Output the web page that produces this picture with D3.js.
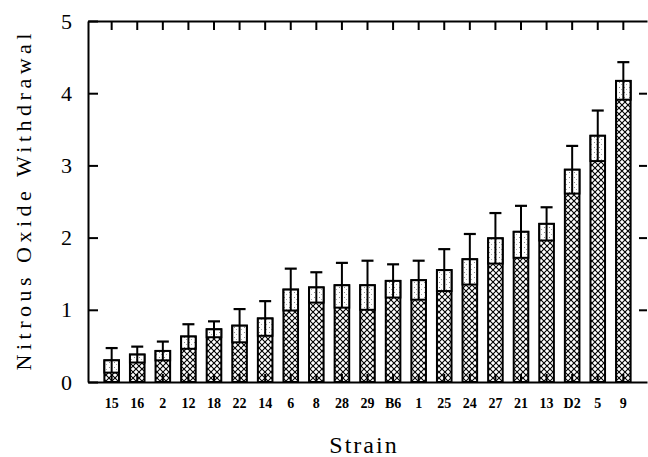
<!DOCTYPE html>
<html>
<head>
<meta charset="utf-8">
<script src="https://cdn.jsdelivr.net/npm/d3@7"></script>
<style>
  body { margin: 0; background: #fff; }
  text { font-family: "Liberation Serif", "Times New Roman", serif; fill: #000; }
</style>
</head>
<body>
<div id="chart"></div>
<script>
// strains in plotted order
var strains = ["15", "16", "2", "12", "18", "22", "14", "6", "8", "28", "29",
               "B6", "1", "25", "24", "27", "21", "13", "D2", "5", "9"];
// mean withdrawal score
var means = [0.30, 0.38, 0.43, 0.63, 0.73, 0.78, 0.88, 1.28, 1.31, 1.34, 1.34,
             1.40, 1.41, 1.55, 1.70, 1.99, 2.08, 2.19, 2.94, 3.41, 4.17];
// standard error
var sems = [0.17, 0.11, 0.13, 0.17, 0.11, 0.23, 0.24, 0.29, 0.21, 0.31, 0.34,
            0.23, 0.27, 0.29, 0.35, 0.35, 0.36, 0.23, 0.33, 0.35, 0.26];
var yTicks = [0, 1, 2, 3, 4, 5];

var data = strains.map(function(s, i) {
    return {strain: s, mean: means[i], sem: sems[i]};
});

var margin = {top: 21, right: 1, bottom: 75, left: 88},
    width = 648 - margin.left - margin.right,
    height = 457 - margin.top - margin.bottom;

var svg = d3.select("#chart").append("svg")
    .attr("width", 648)
    .attr("height", 457);

var defs = svg.append("defs");

// cross hatch for the bars
var hatch = defs.append("pattern")
    .attr("id", "hatch")
    .attr("patternUnits", "userSpaceOnUse")
    .attr("width", 6)
    .attr("height", 6);
hatch.append("rect").attr("width", 6).attr("height", 6).attr("fill", "#fff");
hatch.append("path")
    .attr("d", "M0,0L6,6M6,0L0,6")
    .attr("stroke", "#000")
    .attr("stroke-width", 1.1);

// light stipple for the sem box
var dots = defs.append("pattern")
    .attr("id", "dots")
    .attr("patternUnits", "userSpaceOnUse")
    .attr("width", 5)
    .attr("height", 5);
dots.append("rect").attr("width", 5).attr("height", 5).attr("fill", "#fff");
dots.append("rect").attr("x", 1).attr("y", 1).attr("width", 1).attr("height", 1).attr("fill", "#888");
dots.append("rect").attr("x", 3).attr("y", 3).attr("width", 1).attr("height", 1).attr("fill", "#aaa");

var g = svg.append("g")
    .attr("transform", "translate(" + margin.left + "," + margin.top + ")");

var x = d3.scaleBand()
    .domain(strains)
    .range([0, width])
    .paddingInner(0.43)
    .paddingOuter(0.64);

var y = d3.scaleLinear()
    .domain([0, 5])
    .range([height, 0]);

// bars
var bars = g.selectAll(".bar")
    .data(data)
    .enter().append("g")
    .attr("class", "bar");

bars.append("rect")
    .attr("x", function(d) { return x(d.strain); })
    .attr("y", function(d) { return y(d.mean); })
    .attr("width", x.bandwidth())
    .attr("height", function(d) { return height - y(d.mean); })
    .attr("fill", "url(#hatch)")
    .attr("stroke", "#000")
    .attr("stroke-width", 2);

bars.append("rect")
    .attr("x", function(d) { return x(d.strain); })
    .attr("y", function(d) { return y(d.mean); })
    .attr("width", x.bandwidth())
    .attr("height", function(d) { return y(d.mean - d.sem) - y(d.mean); })
    .attr("fill", "url(#dots)")
    .attr("stroke", "#000")
    .attr("stroke-width", 2);

// error bars
bars.append("line")
    .attr("x1", function(d) { return x(d.strain) + x.bandwidth() / 2; })
    .attr("x2", function(d) { return x(d.strain) + x.bandwidth() / 2; })
    .attr("y1", function(d) { return y(d.mean - d.sem); })
    .attr("y2", function(d) { return y(d.mean + d.sem); })
    .attr("stroke", "#000")
    .attr("stroke-width", 2);

bars.append("line")
    .attr("x1", function(d) { return x(d.strain) + x.bandwidth() / 2 - 6; })
    .attr("x2", function(d) { return x(d.strain) + x.bandwidth() / 2 + 6; })
    .attr("y1", function(d) { return y(d.mean + d.sem); })
    .attr("y2", function(d) { return y(d.mean + d.sem); })
    .attr("stroke", "#000")
    .attr("stroke-width", 2.2);

// axes
var xBottom = g.append("g")
    .attr("transform", "translate(0," + height + ")")
    .call(d3.axisBottom(x).tickSizeInner(-8).tickSizeOuter(0).tickPadding(16));

var xTop = g.append("g")
    .call(d3.axisTop(x).tickSizeInner(-9).tickSizeOuter(0).tickFormat(""));

var yLeft = g.append("g")
    .call(d3.axisLeft(y).tickValues(yTicks).tickFormat(d3.format("d"))
        .tickSizeInner(-10).tickSizeOuter(0).tickPadding(16));

var yRight = g.append("g")
    .attr("transform", "translate(" + width + ",0)")
    .call(d3.axisRight(y).tickValues([1, 2, 3, 4]).tickSizeInner(-8).tickSizeOuter(0).tickFormat(""));
yRight.select(".domain").remove();

[xBottom, xTop, yLeft, yRight].forEach(function(a) {
    a.selectAll("path, line").attr("stroke", "#000").attr("stroke-width", 2);
});

xBottom.selectAll("text")
    .attr("font-size", 14)
    .attr("font-weight", "bold")
    .style("font-family", "'Liberation Serif', serif");

yLeft.selectAll("text")
    .attr("font-size", 22)
    .style("font-family", "'Liberation Serif', serif");

// axis titles
svg.append("text")
    .attr("x", 364)
    .attr("y", 453)
    .attr("text-anchor", "middle")
    .attr("font-size", 24)
    .attr("letter-spacing", 2)
    .text("Strain");

svg.append("text")
    .attr("transform", "translate(31,202) rotate(-90)")
    .attr("text-anchor", "middle")
    .attr("font-size", 22)
    .attr("textLength", 337)
    .attr("lengthAdjust", "spacing")
    .text("Nitrous Oxide Withdrawal");
</script>
</body>
</html>
